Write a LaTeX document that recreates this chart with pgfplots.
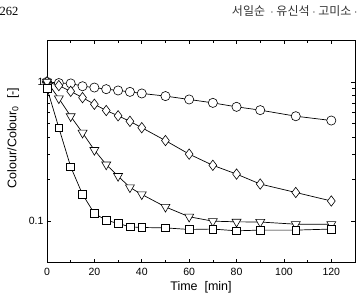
\documentclass[border=0pt]{standalone}
\usepackage{fontspec}
\setmainfont{Liberation Sans}
\newfontfamily\serif{Liberation Serif}
\newfontfamily\kr{Noto Sans CJK KR}
\usepackage{pgfplots}
\pgfplotsset{compat=1.18}

\begin{document}
\begin{tikzpicture}
\useasboundingbox (0pt,0pt) rectangle (359pt,297pt);
% running head
\node[anchor=west,font=\serif\fontsize{12.5}{12}\selectfont] at (-4pt,286pt) {262};
\node[anchor=east,font=\kr\fontsize{12}{12}\selectfont,text=black!80] at (361pt,286pt) {서일순\ \ $\cdot$\ 유신석\ $\cdot$\ 고미소\ $\cdot$};
\begin{axis}[
  at={(47pt,34.3pt)}, anchor=south west,
  scale only axis, width=308pt, height=222.7pt,
  ymode=log, xmin=0, xmax=130, ymin=0.05, ymax=2,
  xtick={0,20,...,120}, minor xtick={10,30,...,110},
  ytick={0.1,1}, yticklabels={0.1,1},
  tick align=inside, major tick length=4pt, minor tick length=3pt,
  tick style={black, line width=0.6pt},
  axis line style={line width=0.7pt},
  every tick label/.append style={font=\fontsize{10.5}{10}\selectfont},
  xticklabel style={yshift=-2pt},
  /pgf/number format/assume math mode=true,
  xlabel={Time\ \ [min]},
  ylabel={Colour/Colour$_{\mathrm{0}}$\ \ [-]},
  label style={font=\fontsize{12.5}{12}\selectfont},
  xlabel style={yshift=1pt},
  ylabel style={at={(ticklabel cs:0.56)}, yshift=3pt},
  every axis plot/.append style={black, line width=0.7pt, mark options={fill=white, solid, line width=0.6pt}},
  clip=false,
]
% circles
\addplot[mark=*, mark size=4.6pt] coordinates {
 (0,1.0) (5,0.98) (10,0.974) (15,0.93) (20,0.91) (25,0.886) (30,0.867) (35,0.847)
 (40,0.825) (50,0.79) (60,0.747) (70,0.706) (80,0.661) (90,0.626) (105,0.566) (120,0.527)};
% diamonds
\addplot[mark=diamond*, mark size=5.2pt] coordinates {
 (0,1.0) (5,0.94) (10,0.855) (15,0.77) (20,0.69) (25,0.622) (30,0.57) (35,0.52)
 (40,0.468) (50,0.378) (60,0.302) (70,0.251) (80,0.217) (90,0.184) (105,0.16) (120,0.139)};
% down triangles
\addplot[mark=triangle*, mark size=5.2pt, mark options={fill=white, solid, line width=0.6pt, rotate=180}] coordinates {
 (0,1.0) (5,0.76) (10,0.565) (15,0.43) (20,0.323) (25,0.254) (30,0.21) (35,0.174)
 (40,0.155) (50,0.126) (60,0.107) (70,0.0995) (80,0.0984) (90,0.0981) (105,0.0946) (120,0.0946)};
% squares
\addplot[mark=square*, mark size=3.9pt] coordinates {
 (0,0.9) (5,0.467) (10,0.245) (15,0.155) (20,0.113) (25,0.101) (30,0.0958) (35,0.0906)
 (40,0.0896) (50,0.089) (60,0.0867) (70,0.0873) (80,0.0848) (90,0.0858) (105,0.0858) (120,0.0873)};
\end{axis}
\end{tikzpicture}
\end{document}
